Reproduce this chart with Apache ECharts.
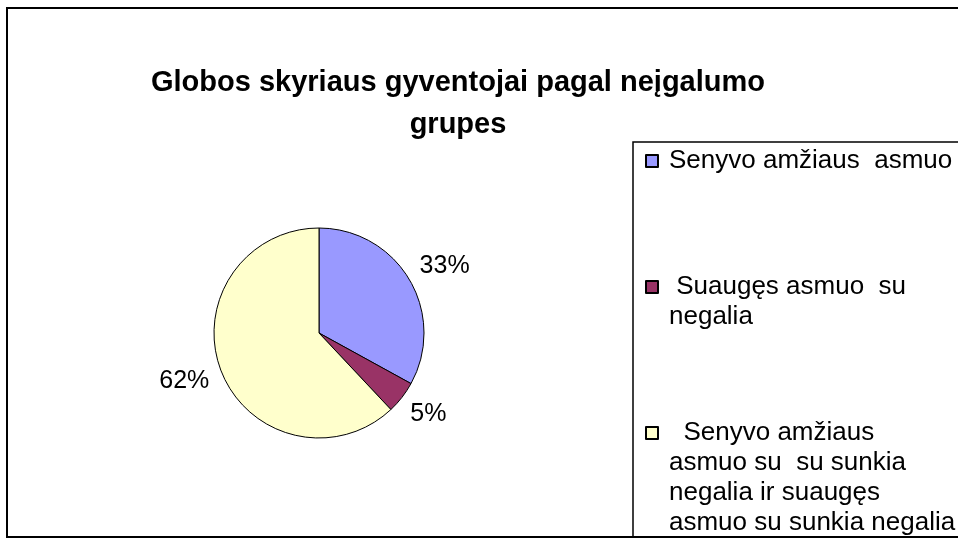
<!DOCTYPE html>
<html>
<head>
<meta charset="utf-8">
<title>Globos skyriaus gyventojai</title>
<script src="https://cdn.jsdelivr.net/npm/echarts@6/dist/echarts.min.js"></script>
<style>
    html, body { margin: 0; padding: 0; background: #fff; }
    #chart { width: 958px; height: 538px; }
</style>
</head>
<body>
<div id="chart"></div>
<script>
    // grupės ir jų dalys
    let categories = [
        'Senyvo amžiaus  asmuo',
        'Suaugęs asmuo  su negalia',
        'Senyvo amžiaus asmuo su  su sunkia negalia ir suaugęs asmuo su sunkia negalia'
    ];
    let values = [33, 5, 62];
    // legendos eilutės kaip originale
    let legendLines = [
        ['Senyvo amžiaus  asmuo'],
        [' Suaugęs asmuo  su', 'negalia'],
        ['  Senyvo amžiaus', 'asmuo su  su sunkia', 'negalia ir suaugęs', 'asmuo su sunkia negalia']
    ];
    let titleText = 'Globos skyriaus gyventojai pagal neįgalumo\ngrupes';

    let font = '"Liberation Sans", Arial, sans-serif';
    let lineH = 30;
    let iconCenters = [161, 287, 433];

    let legends = [];
    for (let i = 0; i < categories.length; i++) {
        let n = legendLines[i].length;
        legends.push({
            data: [categories[i]],
            orient: 'vertical',
            left: 645,
            top: iconCenters[i] - (2 * n - 1) * lineH / 2,
            padding: 0,
            icon: 'rect',
            itemWidth: 12,
            itemHeight: 12,
            selectedMode: false,
            formatter: function () {
                // tuščios eilutės viršuje, kad pirma eilutė būtų ties ženklu
                let pad = '';
                for (let k = 1; k < n; k++) pad += ' \n';
                return pad + legendLines[i].join('\n');
            },
            textStyle: {
                fontFamily: font,
                fontSize: 26,
                color: '#000',
                lineHeight: lineH,
                padding: [0, 0, 0, 6]
            }
        });
    }

    let data = [];
    for (let i = 0; i < categories.length; i++) {
        data.push({ name: categories[i], value: values[i] });
    }

    let chart = echarts.init(document.getElementById('chart'));
    let option = {
        backgroundColor: '#fff',
        animation: false,
        color: ['#9999ff', '#993366', '#ffffcc'],
        title: {
            text: titleText,
            left: 453,
            top: 57,
            textAlign: 'center',
            textStyle: {
                fontFamily: font,
                fontSize: 29,
                fontWeight: 'bold',
                color: '#000',
                lineHeight: 42
            }
        },
        legend: legends,
        graphic: [
            {
                type: 'rect',
                shape: { x: 7, y: 8, width: 1000, height: 529 },
                style: { fill: 'none', stroke: '#000', lineWidth: 2 },
                z: 100
            },
            {
                type: 'rect',
                shape: { x: 633, y: 142, width: 400, height: 395 },
                style: { fill: 'none', stroke: '#000', lineWidth: 1.5 },
                z: 100
            }
        ],
        series: [{
            type: 'pie',
            center: [319, 333],
            radius: 105,
            startAngle: 90,
            clockwise: true,
            data: data,
            itemStyle: {
                borderColor: '#000',
                borderWidth: 1
            },
            label: {
                show: true,
                position: 'outside',
                formatter: '{d}%',
                fontFamily: font,
                fontSize: 25,
                color: '#000'
            },
            labelLine: {
                show: false,
                length: 27,
                length2: -18
            },
            emphasis: { disabled: true }
        }]
    };
    chart.setOption(option, true);
    window.addEventListener('resize', function () {
        chart.resize();
    });
</script>
</body>
</html>
